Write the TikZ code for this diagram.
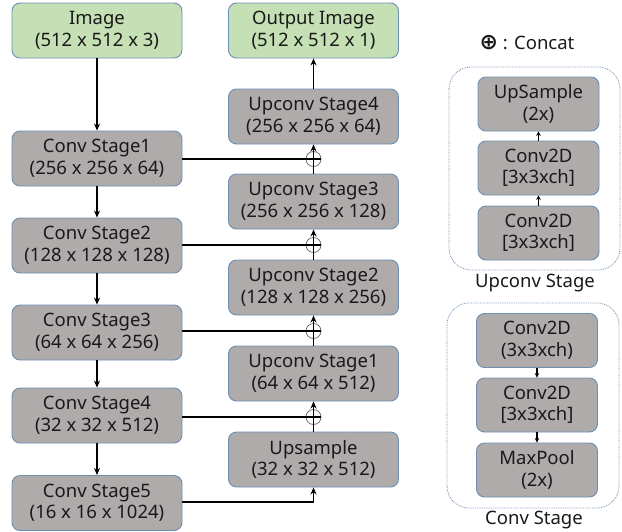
\documentclass[tikz,border=0pt]{standalone}
\usepackage{fontspec}
\setmainfont{Noto Sans}
\newfontfamily\symfont{DejaVu Sans}
\usetikzlibrary{arrows.meta}
\definecolor{boxgray}{RGB}{175,171,171}
\definecolor{boxgreen}{RGB}{197,224,180}
\definecolor{boxedge}{RGB}{108,142,178}
\definecolor{txt}{RGB}{25,25,25}
\tikzset{
  stage/.style={draw=boxedge, line width=0.9pt, fill=boxgray, rounded corners=8pt,
    minimum width=170pt, minimum height=55pt, align=center, text=txt,
    font=\fontsize{18.5}{21.5}\selectfont, inner sep=0pt},
  iobox/.style={stage, fill=boxgreen},
  small/.style={stage, minimum width=121pt, minimum height=54pt},
  flow/.style={line width=1.9pt, -{Stealth[length=7pt,width=6pt]}},
  link/.style={line width=1.9pt},
  tiny/.style={line width=1.3pt, -{Stealth[length=4.5pt,width=4.5pt]}},
  concat/.style={circle, draw=gray!80!black, line width=0.7pt, minimum size=15pt, inner sep=0pt},
  group/.style={draw=boxedge, densely dotted, line width=0.8pt, rounded corners=22pt},
  caption/.style={text=txt, font=\fontsize{18.5}{21.5}\selectfont}
}
\begin{document}
\begin{tikzpicture}[x=1pt,y=-1pt]
\useasboundingbox (0,0) rectangle (622,531);

% encoder column
\node[iobox] (img) at (97,30.5) {Image\\(512 x 512 x 3)};
\node[stage] (c1) at (97,158.5) {Conv Stage1\\(256 x 256 x 64)};
\node[stage] (c2) at (97,245.5) {Conv Stage2\\(128 x 128 x 128)};
\node[stage] (c3) at (97,332.5) {Conv Stage3\\(64 x 64 x 256)};
\node[stage] (c4) at (97,415.5) {Conv Stage4\\(32 x 32 x 512)};
\node[stage] (c5) at (97,503) {Conv Stage5\\(16 x 16 x 1024)};

% decoder column
\node[iobox] (out) at (313.5,30.5) {Output Image\\(512 x 512 x 1)};
\node[stage] (u4) at (313.5,116.5) {Upconv Stage4\\(256 x 256 x 64)};
\node[stage] (u3) at (313.5,201.5) {Upconv Stage3\\(256 x 256 x 128)};
\node[stage] (u2) at (313.5,287.5) {Upconv Stage2\\(128 x 128 x 256)};
\node[stage] (u1) at (313.5,373.5) {Upconv Stage1\\(64 x 64 x 512)};
\node[stage] (up) at (313.5,459.5) {Upsample\\(32 x 32 x 512)};

% concatenation points
\node[concat] (p1) at (313.5,159) {};
\node[concat] (p2) at (313.5,245) {};
\node[concat] (p3) at (313.5,331) {};
\node[concat] (p4) at (313.5,417) {};
\coordinate (turn) at (313.5,502);

% encoder path
\draw[flow] (img) -- (c1);
\draw[flow] (c1) -- (c2);
\draw[flow] (c2) -- (c3);
\draw[flow] (c3) -- (c4);
\draw[flow] (c4) -- (c5);

% skip connections
\draw[link] (c1.east |- p1) -- (p1.east);
\draw[link] (c2.east |- p2) -- (p2.east);
\draw[link] (c3.east |- p3) -- (p3.east);
\draw[link] (c4.east |- p4) -- (p4.east);
\draw[flow] (c5.east |- turn) -- (turn) -- (up.south);

% decoder path
\draw[flow] (up) -- (u1);
\draw[flow] (u1) -- (u2);
\draw[flow] (u2) -- (u3);
\draw[flow] (u3) -- (u4);
\draw[flow] (u4) -- (out);

% legend
\node[caption] (leg) at (527,43) {{\symfont\bfseries\fontsize{22}{22}\selectfont ⊕} : Concat};

% upconv stage detail
\draw[group] (449,67) rectangle (620,270);
\node[small] (us) at (538.5,104) {UpSample\\(2x)};
\node[small] (ua) at (538.5,168) {Conv2D\\{[3x3xch]}};
\node[small] (ub) at (538.5,233) {Conv2D\\{[3x3xch]}};
\draw[tiny] (ub) -- (ua);
\draw[tiny] (ua) -- (us);
\node[caption] (ul) at (535,283) {Upconv Stage};

% conv stage detail
\draw[group] (447,303) rectangle (619,508);
\node[small] (ca) at (537,340.5) {Conv2D\\(3x3xch)};
\node[small] (cb) at (537,405) {Conv2D\\{[3x3xch]}};
\node[small] (cp) at (537,470) {MaxPool\\(2x)};
\draw[tiny] (ca) -- (cb);
\draw[tiny] (cb) -- (cp);
\node[caption] (cl) at (534,520) {Conv Stage};
\end{tikzpicture}
\end{document}
